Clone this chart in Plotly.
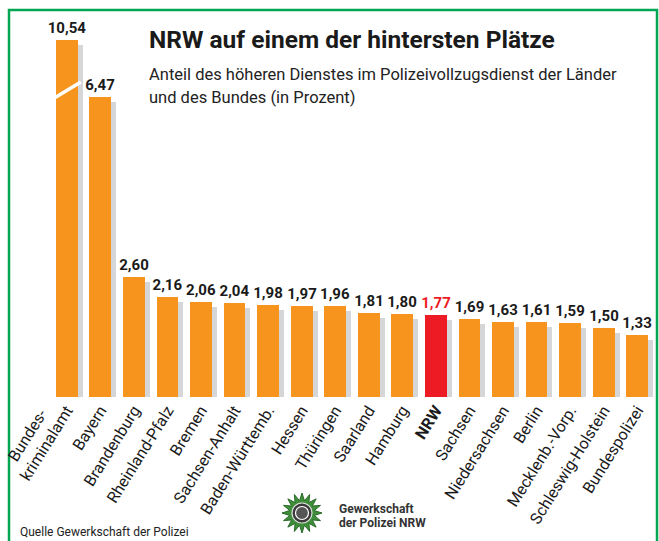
import plotly.graph_objects as go
import math

# ---- data ----
categories = ["kriminalamt", "Bayern", "Brandenburg", "Rheinland-Pfalz", "Bremen",
              "Sachsen-Anhalt", "Baden-Württemb.", "Hessen", "Thüringen", "Saarland", "Hamburg",
              "<b>NRW</b>", "Sachsen", "Niedersachsen", "Berlin", "Mecklenb.-Vorp.",
              "Schleswig-Holstein", "Bundespolizei"]
first_label_line1 = "Bundes-"
values = [10.54, 6.47, 2.60, 2.16, 2.06, 2.04, 1.98, 1.97, 1.96, 1.81, 1.80, 1.77,
          1.69, 1.63, 1.61, 1.59, 1.50, 1.33]
highlight_index = 11  # NRW

# ---- styling ----
ORANGE = "#F7941D"
RED = "#ED1C24"
SHADOW = "#D5D6D8"
GREEN = "#00A651"
FONT = "Roboto, Liberation Sans, sans-serif"

W, H = 659, 541
ML, MR, MT, MB = 50, 5, 30, 144
PW, PH = W - ML - MR, H - MT - MB
PXU = 46.3  # pixels per percent

# broken axis: values above BREAK are compressed
BREAK = 7.0
COMPRESS = 0.198
def disp(v):
    return v if v <= BREAK else BREAK + (v - BREAK) * COMPRESS

xs = list(range(len(values)))
dvals = [disp(v) for v in values]
colors = [RED if i == highlight_index else ORANGE for i in xs]
txt_colors = [RED if i == highlight_index else "#1a1a1a" for i in xs]
labels = [f"{v:.2f}".replace(".", ",") for v in values]

YMAX = PH / PXU
px_per_x = PW / (len(values))
shadow_dx = 5 / px_per_x
shadow_dy = 5 / PXU

fig = go.Figure()
fig.add_trace(go.Bar(
    x=[x + shadow_dx for x in xs], y=[d - shadow_dy for d in dvals],
    width=0.65, marker=dict(color=SHADOW, line=dict(width=0)),
    hoverinfo="skip", showlegend=False))
fig.add_trace(go.Bar(
    x=xs, y=dvals, width=0.65,
    marker=dict(color=colors, line=dict(width=0)),
    text=labels, textposition="outside", cliponaxis=False, constraintext="none",
    textfont=dict(family=FONT, size=15, color=txt_colors, weight="bold"),
    showlegend=False))

def px2paper(px, py):
    return (px - ML) / PW, (H - MB - py) / PH

shapes = []
# break mark on first bar
shapes.append(dict(type="line", xref="x", yref="y", x0=-0.42, x1=0.42,
                   y0=(397 - 99) / PXU, y1=(397 - 82) / PXU,
                   line=dict(color="white", width=3.5)))
# green frame
x0, y0 = px2paper(9, 10)
x1, y1 = px2paper(657, 560)
shapes.append(dict(type="rect", xref="paper", yref="paper", x0=x0, y0=y1, x1=x1, y1=y0,
                   line=dict(color=GREEN, width=2.5), fillcolor="rgba(0,0,0,0)", layer="below"))

# logo star
cx, cy = 302, 513
npts = 16
pts = []
for k in range(npts * 2):
    r = 20 if k % 2 == 0 else 12.5
    a = math.pi / 2 + k * math.pi / npts
    pts.append(px2paper(cx + r * math.cos(a), cy - r * math.sin(a)))
path = "M " + " L ".join(f"{p[0]:.5f},{p[1]:.5f}" for p in pts) + " Z"
shapes.append(dict(type="path", xref="paper", yref="paper", path=path,
                   fillcolor="#3E8E3A", line=dict(color="#2B6B2A", width=1)))
for r, fc, lc in [(10, "#3a3a3a", "#dddddd"), (6.5, "#555555", "white")]:
    a0, b0 = px2paper(cx - r, cy + r)
    a1, b1 = px2paper(cx + r, cy - r)
    shapes.append(dict(type="circle", xref="paper", yref="paper", x0=a0, y0=b0, x1=a1, y1=b1,
                       fillcolor=fc, line=dict(color=lc, width=1.2)))

annotations = []
def add_text(px, py, text, size, color="#1a1a1a", xanchor="left", angle=0):
    ax, ay = px2paper(px, py)
    annotations.append(dict(x=ax, y=ay, xref="paper", yref="paper", text=text, showarrow=False,
                            xanchor=xanchor, yanchor="middle", align="left", textangle=angle,
                            font=dict(family=FONT, size=size, color=color)))

add_text(147, 40, "<b>NRW auf einem der hintersten Plätze</b>", 24.5)
add_text(147, 74, "Anteil des höheren Dienstes im Polizeivollzugsdienst der Länder", 16.5, color="#222")
add_text(147, 98, "und des Bundes (in Prozent)", 16.5, color="#222")
add_text(18, 532, "Quelle Gewerkschaft der Polizei", 12, color="#222")
add_text(337, 509, "<b>Gewerkschaft</b>", 12, color="#333")
add_text(337, 523, "<b>der Polizei NRW</b>", 12, color="#333")
add_text(27, 435, first_label_line1, 16, xanchor="center", angle=-58)

fig.update_layout(
    width=W, height=H, margin=dict(l=ML, r=MR, t=MT, b=MB, autoexpand=False),
    paper_bgcolor="white", plot_bgcolor="white",
    barmode="overlay", bargap=0,
    shapes=shapes, annotations=annotations,
    xaxis=dict(tickmode="array", tickvals=xs, ticktext=categories, tickangle=-58,
               range=[-0.5, len(values) - 0.5], showgrid=False, zeroline=False, automargin=False,
               showline=False, ticks="", tickfont=dict(family=FONT, size=16, color="#1a1a1a")),
    yaxis=dict(range=[0, YMAX], showgrid=False, zeroline=False, showticklabels=False,
               showline=False, ticks="", automargin=False),
)

fig.write_html("out.html", config={"displayModeBar": False},
               post_script="document.body.style.margin='0';document.body.style.overflow='hidden';")
